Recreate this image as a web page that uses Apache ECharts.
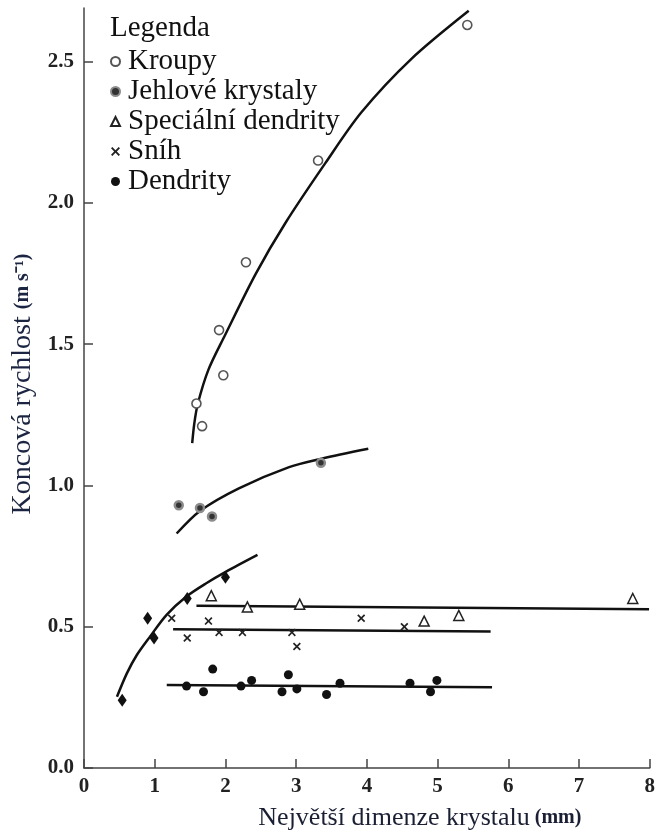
<!DOCTYPE html>
<html>
<head>
<meta charset="utf-8">
<script src="https://cdn.jsdelivr.net/npm/echarts@6/dist/echarts.min.js"></script>
<style>
  html, body { margin: 0; padding: 0; background: #fff; }
  #chart { width: 658px; height: 836px; }
</style>
</head>
<body>
<div id="chart"></div>
<script>
// Kroupy (open circles) + fitted curve
const kroupyX = [5.42, 3.31, 2.29, 1.91, 1.97, 1.59, 1.67];
const kroupyY = [2.63, 2.15, 1.79, 1.55, 1.39, 1.29, 1.21];
const kroupyFitX = [1.53, 1.56, 1.61, 1.76, 1.99, 2.43, 2.85, 3.41, 3.92, 4.63, 5.44];
const kroupyFitY = [1.15, 1.22, 1.29, 1.41, 1.53, 1.75, 1.93, 2.14, 2.32, 2.51, 2.68];

// Jehlove krystaly
const jehloveX = [1.34, 1.64, 1.81, 3.35];
const jehloveY = [0.93, 0.92, 0.89, 1.08];
const jehloveFitX = [1.31, 1.64, 2.19, 2.90, 3.36, 4.02];
const jehloveFitY = [0.83, 0.91, 0.99, 1.065, 1.095, 1.13];

// Specialni dendrity
const specX = [1.80, 2.31, 3.05, 4.81, 5.30, 7.76];
const specY = [0.61, 0.57, 0.58, 0.52, 0.54, 0.60];
const specFitX = [1.59, 7.99];
const specFitY = [0.574, 0.562];

// Snih
const snihX = [1.24, 1.46, 1.76, 1.91, 2.24, 2.94, 3.01, 3.92, 4.53];
const snihY = [0.53, 0.46, 0.52, 0.48, 0.48, 0.48, 0.43, 0.53, 0.50];
const snihFitX = [1.26, 5.75];
const snihFitY = [0.491, 0.483];

// Dendrity (filled circles, lower group)
const dendX = [1.45, 1.69, 1.82, 2.22, 2.37, 2.80, 2.89, 3.01, 3.43, 3.62, 4.61, 4.90, 4.99];
const dendY = [0.29, 0.27, 0.35, 0.29, 0.31, 0.27, 0.33, 0.28, 0.26, 0.30, 0.30, 0.27, 0.31];
const dendFitX = [1.17, 5.77];
const dendFitY = [0.294, 0.286];

// Dendrity on the steep lower curve (diamond marks)
const dendCurveX = [0.54, 0.90, 0.99, 1.46, 2.00];
const dendCurveY = [0.24, 0.53, 0.46, 0.60, 0.675];
const dendCurveFitX = [0.466, 0.606, 0.747, 0.933, 1.168, 1.448, 1.729, 2.010, 2.453];
const dendCurveFitY = [0.252, 0.335, 0.400, 0.465, 0.542, 0.607, 0.654, 0.695, 0.754];

const yTicks = [0, 0.5, 1.0, 1.5, 2.0, 2.5];
const legendNames = ['Kroupy', 'Jehlové krystaly', 'Speciální dendrity', 'Sníh', 'Dendrity'];

const pair = (xs, ys) => xs.map((x, i) => [x, ys[i]]);
const serif = 'Liberation Serif, Times New Roman, serif';
const ink = '#111';

const fitLine = (name, xs, ys) => ({
  name: name,
  type: 'line',
  data: pair(xs, ys),
  smooth: 0.3,
  symbol: 'none',
  silent: true,
  lineStyle: { color: ink, width: 2.5 },
  z: 2
});

const crossPath = 'path://M0,1.5L1.5,0L5,3.5L8.5,0L10,1.5L6.5,5L10,8.5L8.5,10L5,6.5L1.5,10L0,8.5L3.5,5Z';

const chart = echarts.init(document.getElementById('chart'));
chart.setOption({
  animation: false,
  title: {
    text: 'Legenda',
    left: 110,
    top: 14,
    padding: 0,
    textStyle: { fontFamily: serif, fontSize: 29, fontWeight: 'normal', color: ink }
  },
  legend: {
    data: legendNames,
    orient: 'vertical',
    left: 110,
    top: 47,
    padding: 0,
    itemGap: 1,
    itemWidth: 9,
    itemHeight: 9,
    textStyle: { fontFamily: serif, fontSize: 29, lineHeight: 29, color: ink, padding: [0, 0, 0, 3] }
  },
  grid: { left: 84, right: 4, top: 8, bottom: 68, containLabel: false },
  xAxis: {
    type: 'value',
    min: 0,
    max: 8,
    interval: 1,
    splitLine: { show: false },
    axisLine: { lineStyle: { color: '#444', width: 1.5 } },
    axisTick: { inside: true, length: 9, lineStyle: { color: '#444', width: 1.5 } },
    axisLabel: { fontFamily: serif, fontSize: 21, fontWeight: 'bold', color: '#222', margin: 8 },
    name: '{a|Největší dimenze krystalu}{b| (mm)}',
    nameLocation: 'middle',
    nameGap: 37,
    nameTextStyle: {
      padding: [0, 0, 0, 106],
      rich: {
        a: { fontFamily: serif, fontSize: 26, color: '#1a1f33' },
        b: { fontFamily: serif, fontSize: 20, fontWeight: 'bold', color: '#1a1f33' }
      }
    }
  },
  yAxis: {
    type: 'value',
    min: 0,
    max: 2.69,
    splitLine: { show: false },
    axisLine: { show: true, lineStyle: { color: '#444', width: 1.5 } },
    axisTick: { inside: true, length: 9, customValues: yTicks, lineStyle: { color: '#444', width: 1.5 } },
    axisLabel: {
      customValues: yTicks,
      fontFamily: serif, fontSize: 21, fontWeight: 'bold', color: '#222', margin: 10,
      formatter: v => v.toFixed(1)
    },
    name: '{a|Koncová rychlost }{b|(m s⁻¹)}',
    nameLocation: 'middle',
    nameRotate: 90,
    nameGap: 44,
    nameTextStyle: {
      padding: [0, 0, 0, 8],
      rich: {
        a: { fontFamily: serif, fontSize: 28, color: '#1b2440' },
        b: { fontFamily: serif, fontSize: 20, fontWeight: 'bold', color: '#1b2440' }
      }
    }
  },
  series: [
    fitLine('fitKroupy', kroupyFitX, kroupyFitY),
    fitLine('fitJehlove', jehloveFitX, jehloveFitY),
    fitLine('fitSpec', specFitX, specFitY),
    fitLine('fitSnih', snihFitX, snihFitY),
    fitLine('fitDend', dendFitX, dendFitY),
    fitLine('fitDendCurve', dendCurveFitX, dendCurveFitY),
    {
      name: 'Kroupy', type: 'scatter', data: pair(kroupyX, kroupyY),
      symbol: 'circle', symbolSize: 9, z: 5,
      itemStyle: { color: '#fff', borderColor: '#555', borderWidth: 1.6, opacity: 1 }
    },
    {
      name: 'Jehlové krystaly', type: 'scatter', data: pair(jehloveX, jehloveY),
      symbol: 'circle', symbolSize: 8, z: 5,
      itemStyle: { color: '#333', borderColor: '#8c8c8c', borderWidth: 2.5, opacity: 1 }
    },
    {
      name: 'Speciální dendrity', type: 'scatter', data: pair(specX, specY),
      symbol: 'triangle', symbolSize: 10, z: 5,
      itemStyle: { color: '#fff', borderColor: '#222', borderWidth: 1.5, opacity: 1 }
    },
    {
      name: 'Sníh', type: 'scatter', data: pair(snihX, snihY),
      symbol: crossPath, symbolSize: 8, z: 5,
      itemStyle: { color: '#222', opacity: 1 }
    },
    {
      name: 'Dendrity', type: 'scatter', data: pair(dendX, dendY),
      symbol: 'circle', symbolSize: 9, z: 5,
      itemStyle: { color: ink, opacity: 1 }
    },
    {
      name: 'Dendrity', type: 'scatter', data: pair(dendCurveX, dendCurveY),
      symbol: 'diamond', symbolSize: [9, 13], z: 5,
      itemStyle: { color: ink, opacity: 1 }
    }
  ]
});
</script>
</body>
</html>
